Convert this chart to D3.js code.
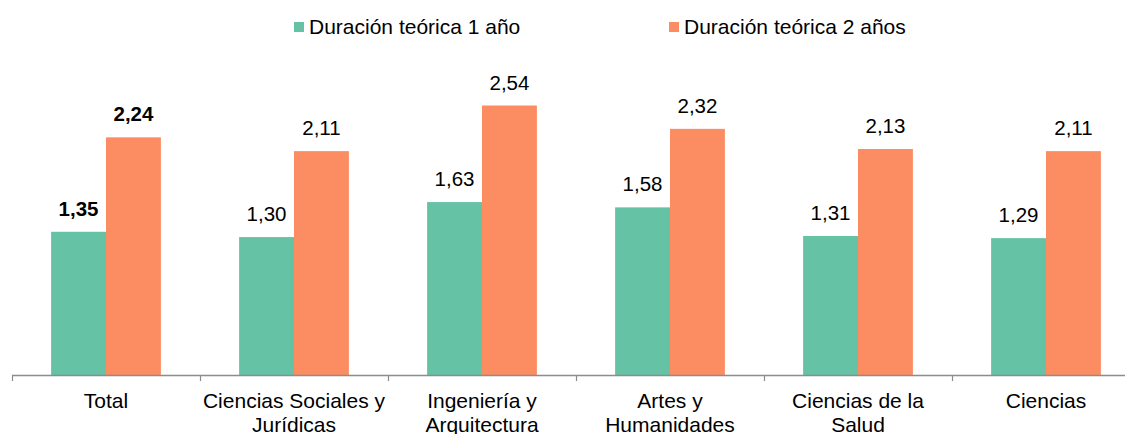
<!DOCTYPE html>
<html>
<head>
<meta charset="utf-8">
<script src="https://cdn.jsdelivr.net/npm/d3@7"></script>
<style>
  html, body { margin: 0; padding: 0; background: #fff; }
  svg { display: block; font-family: "Liberation Sans", Arial, sans-serif; }
</style>
</head>
<body>
<svg id="chart" width="1125" height="434"></svg>
<script>
// Rama de conocimiento
const categories = [
  ["Total"],
  ["Ciencias Sociales y", "Jurídicas"],
  ["Ingeniería y", "Arquitectura"],
  ["Artes y", "Humanidades"],
  ["Ciencias de la", "Salud"],
  ["Ciencias"]
];
const seriesNames = ["Duración teórica 1 año", "Duración teórica 2 años"];
const oneYear = [1.35, 1.30, 1.63, 1.58, 1.31, 1.29];
const twoYears = [2.24, 2.11, 2.54, 2.32, 2.13, 2.11];
const colors = ["#66c2a5", "#fc8d62"];

const svg = d3.select("#chart");
const baseY = 375;
const fmt = v => d3.format(".2f")(v).replace(".", ",");

const keys = categories.map(c => c.join(" "));
const x = d3.scaleBand().domain(keys).range([12, 1140]).paddingInner(0).paddingOuter(0);
const sub = d3.scaleBand().domain([0, 1]).range([0, x.bandwidth()]).paddingInner(0).paddingOuter(0.7125);
const y = d3.scaleLinear().domain([0, 3]).range([baseY, baseY - 318.3]);

const rows = keys.map((k, i) => ({ key: k, lines: categories[i], vals: [oneYear[i], twoYears[i]], bold: i === 0 }));

const groups = svg.selectAll("g.cat").data(rows).join("g")
  .attr("class", "cat")
  .attr("transform", d => `translate(${x(d.key)},0)`);

groups.selectAll("rect").data(d => d.vals.map((v, s) => ({ v, s }))).join("rect")
  .attr("x", d => sub(d.s))
  .attr("width", sub.bandwidth())
  .attr("y", d => y(d.v))
  .attr("height", d => y(0) - y(d.v))
  .attr("fill", d => colors[d.s]);

groups.each(function (row) {
  d3.select(this).selectAll("text.val").data(row.vals.map((v, s) => ({ v, s }))).join("text")
    .attr("class", "val")
    .attr("x", d => sub(d.s) + sub.bandwidth() / 2)
    .attr("y", d => y(d.v) - 16)
    .attr("text-anchor", "middle")
    .attr("font-size", 20.5)
    .attr("font-weight", row.bold ? "bold" : "normal")
    .attr("fill", "#000")
    .text(d => fmt(d.v));
});

// Eje horizontal con marcas entre categorías
const axis = svg.append("g").attr("class", "axis");
axis.append("line")
  .attr("x1", 12).attr("x2", 1140)
  .attr("y1", baseY + 0.5).attr("y2", baseY + 0.5)
  .attr("stroke", "#8c8c8c").attr("stroke-width", 1.5);
const tickPos = keys.map(k => x(k));
axis.selectAll("line.tick").data(tickPos).join("line")
  .attr("class", "tick")
  .attr("x1", d => d + 0.5).attr("x2", d => d + 0.5)
  .attr("y1", baseY).attr("y2", baseY + 6)
  .attr("stroke", "#8c8c8c").attr("stroke-width", 1.2);

groups.each(function (row) {
  const t = d3.select(this).append("text")
    .attr("text-anchor", "middle")
    .attr("font-size", 21)
    .attr("fill", "#000");
  row.lines.forEach((ln, i) => {
    t.append("tspan")
      .attr("x", x.bandwidth() / 2)
      .attr("y", 408 + i * 24)
      .text(ln);
  });
});

// Leyenda
const legendX = [294, 669];
const legend = svg.selectAll("g.legend").data(seriesNames).join("g")
  .attr("class", "legend")
  .attr("transform", (d, i) => `translate(${legendX[i]},22)`);
legend.append("rect").attr("width", 10).attr("height", 10).attr("fill", (d, i) => colors[i]);
legend.append("text")
  .attr("x", 15).attr("y", 12)
  .attr("font-size", 21)
  .attr("fill", "#000")
  .text(d => d);
</script>
</body>
</html>
